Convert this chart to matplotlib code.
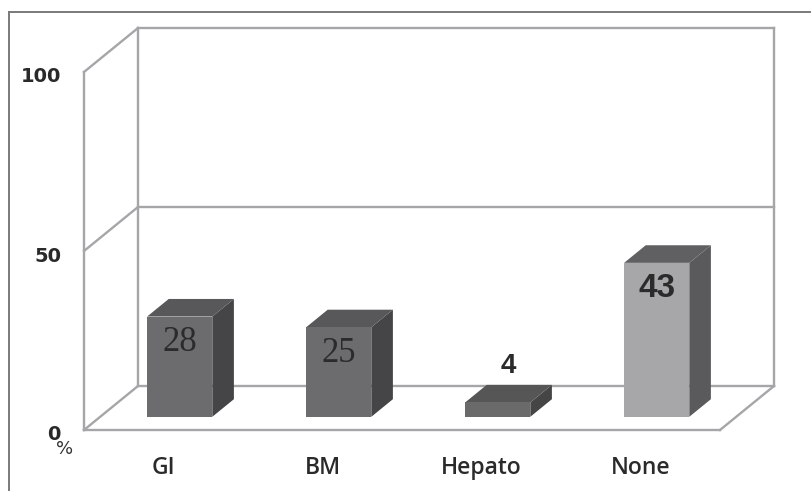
import matplotlib
matplotlib.use("Agg")
import matplotlib.pyplot as plt
from matplotlib.patches import Polygon, Rectangle
from matplotlib.lines import Line2D

# -----------------------------------------
# Data
# -----------------------------------------
categories = ["GI", "BM", "Hepato", "None"]
percent = [28, 25, 4, 43]
y_ticks = [0, 50, 100]

# -----------------------------------------
# Styles (per bar)
# -----------------------------------------
front_colors = ["#6c6c6e", "#6c6c6e", "#6a6a6b", "#a7a7a9"]
side_colors = ["#454547", "#454547", "#454546", "#5a5a5c"]
top_colors = ["#58585a", "#58585a", "#565657", "#606062"]
label_fonts = [
    dict(family=["Liberation Serif"], fontsize=25, fontweight="normal"),
    dict(family=["Liberation Serif"], fontsize=25, fontweight="normal"),
    dict(family=["Liberation Sans Narrow", "Liberation Sans"], fontsize=20, fontweight="bold"),
    dict(family=["Liberation Sans Narrow", "Liberation Sans"], fontsize=24, fontweight="bold"),
]

# -----------------------------------------
# Layout (pixel mapping of the pseudo-3D frame)
# -----------------------------------------
W, H = 812, 491
x0_px, y0_px = 84, 430        # front-left corner of the floor
px_per_cat = 159.0
px_per_pct = 3.58
depth_x = 54 / px_per_cat     # depth vector of the box, in data units
depth_y = 44 / px_per_pct
bar_w = 0.41
bar_front = 0.3               # fraction of depth where bar front face sits
bar_depth = 0.4
n = len(categories)
grid_col = "#a6a6a9"

fig = plt.figure(figsize=(W / 100, H / 100), dpi=100)
ax = fig.add_axes([0, 0, 1, 1])
ax.set_xlim(-x0_px / px_per_cat, (W - x0_px) / px_per_cat)
ax.set_ylim(-(H - y0_px) / px_per_pct, y0_px / px_per_pct)
ax.axis("off")


def seg(p, q):
    ax.add_line(Line2D([p[0], q[0]], [p[1], q[1]], color=grid_col, lw=1.7,
                       solid_capstyle="projecting", zorder=1))


# back wall and left wall
for t in y_ticks:
    seg((0, t), (depth_x, t + depth_y))
    seg((depth_x, t + depth_y), (n + depth_x, t + depth_y))
seg((0, 0), (0, y_ticks[-1]))
seg((depth_x, depth_y), (depth_x, y_ticks[-1] + depth_y))
seg((n + depth_x, depth_y), (n + depth_x, y_ticks[-1] + depth_y))
# floor
seg((0, 0), (n, 0))
seg((n, 0), (n + depth_x, depth_y))

# bars
for i, v in enumerate(percent):
    xl = i + 0.5 - bar_w / 2 + bar_front * depth_x
    xr = xl + bar_w
    yb = bar_front * depth_y
    yt = yb + v
    dx, dy = bar_depth * depth_x, bar_depth * depth_y
    ax.add_patch(Polygon([(xr, yb), (xr + dx, yb + dy), (xr + dx, yt + dy), (xr, yt)],
                         closed=True, facecolor=side_colors[i], edgecolor="none", zorder=3))
    ax.add_patch(Polygon([(xl, yt), (xr, yt), (xr + dx, yt + dy), (xl + dx, yt + dy)],
                         closed=True, facecolor=top_colors[i], edgecolor="none", zorder=3))
    ax.add_patch(Rectangle((xl, yb), bar_w, v, facecolor=front_colors[i],
                           edgecolor="none", zorder=4))
    if v < 10:
        ax.annotate(str(v), (xl + bar_w / 2 + dx / 2, yt + dy), xytext=(0, 19),
                    textcoords="offset pixels", ha="center", va="center",
                    color="#2b2b2b", zorder=5, **label_fonts[i])
    else:
        ax.annotate(str(v), (xl + bar_w / 2, yt), xytext=(0, -26),
                    textcoords="offset pixels", ha="center", va="center",
                    color="#2b2b2b", zorder=5, **label_fonts[i])

# y tick labels
for t in y_ticks:
    ax.annotate(str(t), (0, t), xytext=(-23, -5), textcoords="offset pixels",
                ha="right", va="center", fontsize=14, fontweight="bold",
                family="DejaVu Sans", color="#2a2a2a")
ax.annotate("%", (0, 0), xytext=(-19, -19), textcoords="offset pixels",
            ha="center", va="center", fontsize=13, color="#333333")

# category labels
for i, c in enumerate(categories):
    ax.annotate(c, (i + 0.5, 0), xytext=(0, -38), textcoords="offset pixels",
                ha="center", va="center", fontsize=16.5, fontweight=600,
                family=["Open Sans", "DejaVu Sans"], color="#2a2a2a")

# outer frame (cropped: only top and left edges visible)
fig.add_artist(Line2D([9 / W, 1], [1 - 12 / H, 1 - 12 / H], transform=fig.transFigure,
                      color="#7a7a7a", lw=1.4))
fig.add_artist(Line2D([9 / W, 9 / W], [0, 1 - 12 / H], transform=fig.transFigure,
                      color="#7a7a7a", lw=1.4))

fig.savefig("out.png", dpi=100, facecolor="white")
